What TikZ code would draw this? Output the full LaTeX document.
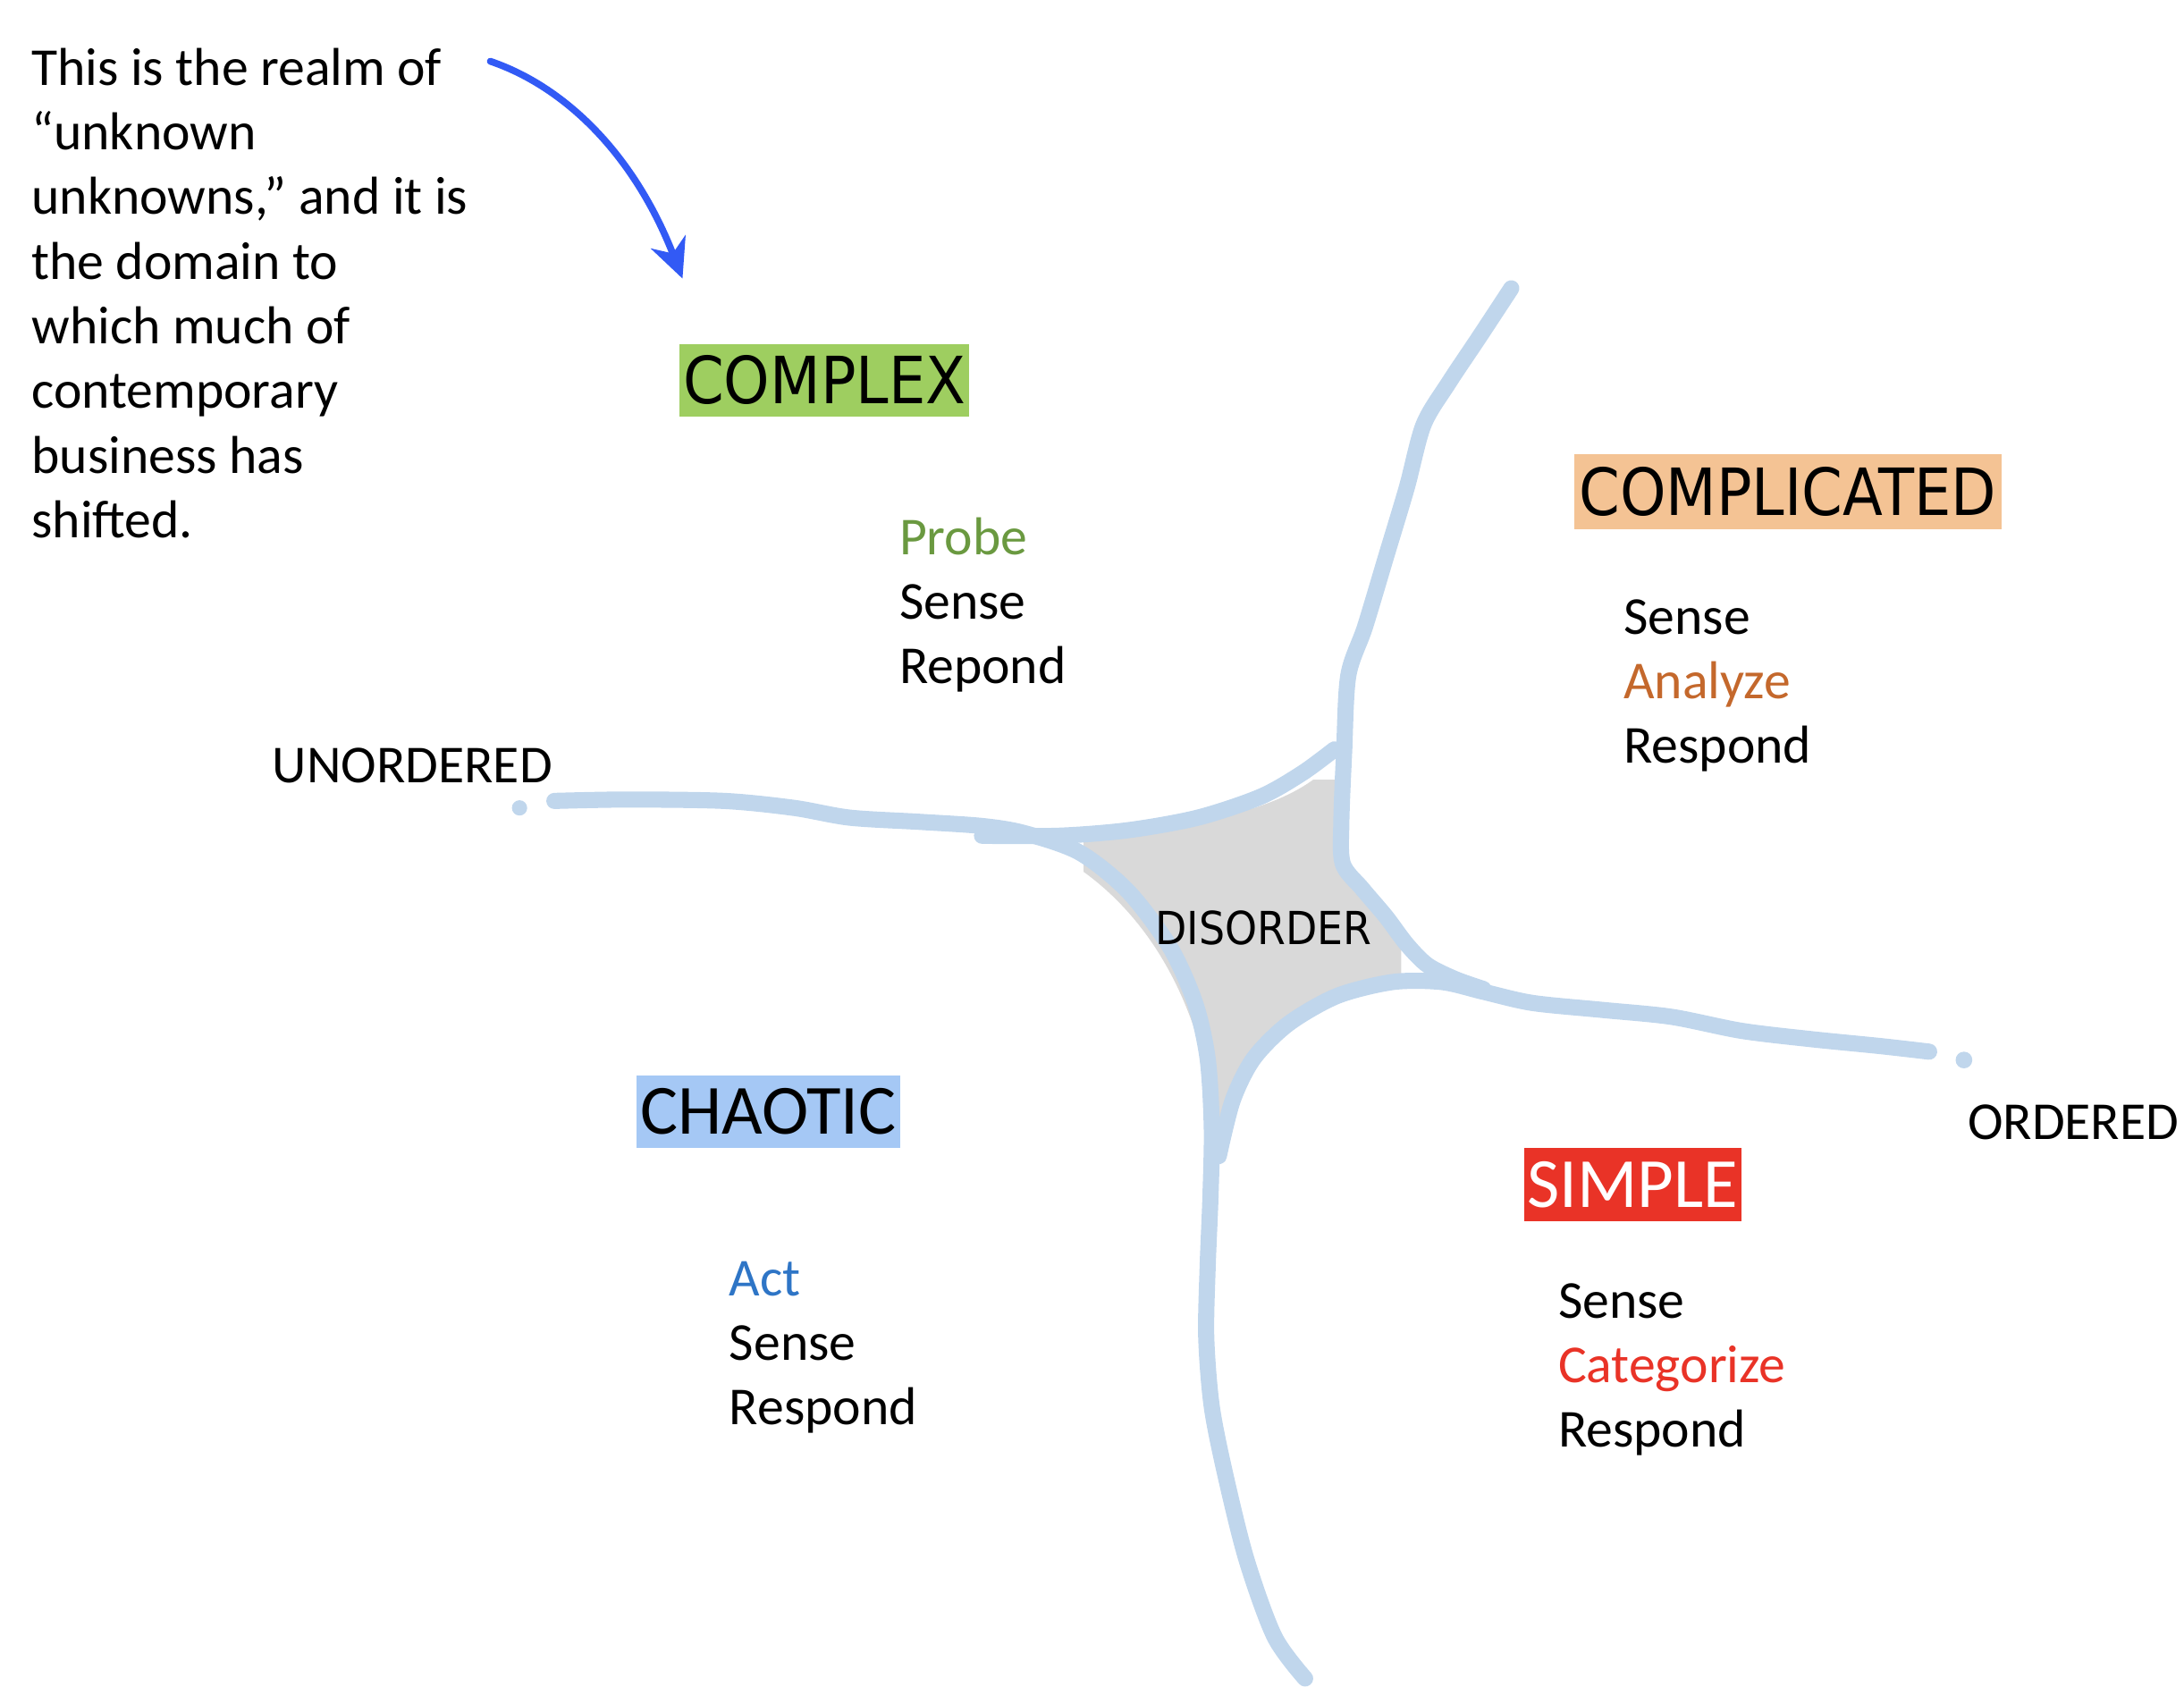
\documentclass[tikz,border=0pt]{standalone}
\usepackage{fontspec}
\setmainfont{Carlito}
\newfontfamily\wideface[FakeStretch=0.9]{DejaVu Sans}
\usetikzlibrary{arrows.meta}

\definecolor{complexgreen}{RGB}{158,206,96}
\definecolor{complicatedorange}{RGB}{244,195,148}
\definecolor{chaoticblue}{RGB}{165,200,245}
\definecolor{simplered}{RGB}{233,51,39}
\definecolor{probegreen}{RGB}{106,153,64}
\definecolor{analyzeorange}{RGB}{196,104,44}
\definecolor{actblue}{RGB}{46,117,198}
\definecolor{arrowblue}{RGB}{50,90,245}
\definecolor{lineblue}{RGB}{192,214,236}
\definecolor{disordergray}{RGB}{217,217,217}

\begin{document}
\begin{tikzpicture}[x=1cm,y=-1cm,>={Stealth[length=8pt,width=7.5pt,inset=2.5pt]}]
  \tikzset{
    body/.style={inner sep=0pt,anchor=base west,align=left,font=\fontsize{10.9}{13.2}\selectfont},
    domainbox/.style={inner sep=0pt,minimum height=0.52cm},
    wide/.style={domainbox,font=\wideface\fontsize{13.3}{16}\selectfont},
    narrow/.style={domainbox,font=\fontsize{14.4}{17}\selectfont},
    border/.style={draw=lineblue,line width=3.3pt,line cap=round,line join=round},
  }
  \useasboundingbox (0,0) rectangle (15.68,12.227);

  % disorder in the middle
  \begin{scope}
    \clip (7.78,5.60) rectangle (10.06,8.35);
    \fill[disordergray] (7.20,5.98) .. controls (8.2,6.0) and (9.3,5.9) .. (9.62,5.40)
      -- (9.64,6.20) .. controls (9.9,6.6) and (10.2,7.0) .. (10.65,7.10)
      .. controls (9.5,6.9) and (8.8,7.5) .. (8.75,8.40)
      .. controls (8.7,7.0) and (8.0,6.2) .. cycle;
  \end{scope}

  % the four borders
  \draw[border] plot[smooth] coordinates {(3.98,5.75) (4.50,5.74) (5.20,5.75) (5.70,5.80)
    (6.10,5.87) (6.60,5.90) (7.05,5.93) (7.35,5.98) (7.75,6.12) (8.10,6.40) (8.40,6.80)
    (8.58,7.20) (8.67,7.60) (8.70,8.10) (8.69,8.60) (8.67,9.10) (8.66,9.60) (8.70,10.10)
    (8.80,10.60) (8.95,11.20) (9.15,11.75) (9.37,12.05)};
  \draw[border] plot[smooth] coordinates {(7.05,6.00) (7.60,6.00) (8.10,5.96) (8.60,5.87)
    (9.05,5.72) (9.35,5.55) (9.58,5.38)};
  \draw[border] plot[smooth] coordinates {(10.85,2.07) (10.62,2.42) (10.40,2.75) (10.22,3.05)
    (10.10,3.50) (9.95,4.00) (9.80,4.50) (9.68,4.85) (9.65,5.40) (9.63,5.90) (9.64,6.20)
    (9.78,6.38) (9.95,6.58) (10.10,6.78) (10.25,6.93) (10.45,7.03) (10.65,7.10)};
  \draw[border] plot[smooth] coordinates {(8.75,8.30) (8.85,7.90) (9.00,7.60) (9.25,7.35)
    (9.60,7.15) (10.00,7.05) (10.35,7.05) (10.65,7.12) (11.00,7.20) (11.50,7.25)
    (12.00,7.30) (12.50,7.40) (13.00,7.46) (13.50,7.51) (13.85,7.55)};
  \coordinate (westdot) at (3.73,5.80);
  \coordinate (eastdot) at (14.10,7.61);
  \fill[lineblue] (westdot) circle (0.055cm);
  \fill[lineblue] (eastdot) circle (0.06cm);

  % domains
  \node[wide,fill=complexgreen,minimum width=2.08cm] (complex) at (5.92,2.73) {COMPLEX};
  \node[wide,fill=complicatedorange,minimum width=3.07cm,minimum height=0.54cm] (complicated) at (12.835,3.53) {COMPLICATED};
  \node[narrow,fill=chaoticblue,minimum width=1.89cm] (chaotic) at (5.515,7.98) {CHAOTIC};
  \node[narrow,fill=simplered,text=white,minimum width=1.56cm,minimum height=0.53cm] (simple) at (11.72,8.505) {SIMPLE};
  \node[font=\wideface\fontsize{9.3}{11}\selectfont] (disorder) at (9.07,6.66) {DISORDER};

  % base is the last line
  \node[body] (complexsteps) at (6.45,4.91) {\textcolor{probegreen}{Probe}\\Sense\\Repond};
  \node[body] (complicatedsteps) at (11.65,5.48) {Sense\\\textcolor{analyzeorange}{Analyze}\\Respond};
  \node[body] (chaoticsteps) at (5.23,10.23) {\textcolor{actblue}{Act}\\Sense\\Respond};
  \node[body] (simplesteps) at (11.18,10.39) {Sense\\\textcolor{simplered}{Categorize}\\Respond};

  \node[body] (unordered) at (1.95,5.62) {UNORDERED};
  \node[body] (ordered) at (14.12,8.18) {ORDERED};

  % the note and its arrow
  \node[body] (note) at (0.22,3.86) {This is the realm of\\“unknown\\unknowns,” and it is\\the domain to\\which much of\\contemporary\\business has\\shifted.};
  \coordinate (arrowstart) at (3.52,0.44);
  \coordinate (arrowend) at (4.90,2.00);
  \draw[->,arrowblue,line width=1.4pt,line cap=round] (arrowstart) .. controls (4.05,0.62) and (4.55,1.10) .. (arrowend);
\end{tikzpicture}
\end{document}
